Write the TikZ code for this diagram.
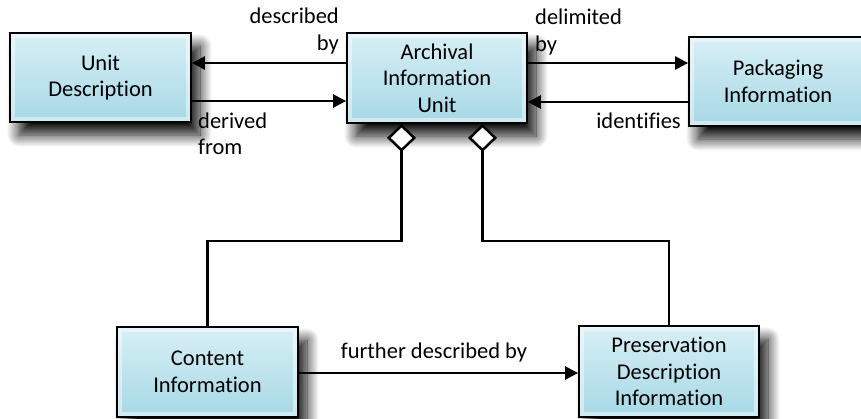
\documentclass[tikz,border=0pt]{standalone}
\usepackage{fontspec}
\setmainfont[Ligatures={NoCommon,NoContextual,NoRare},RawFeature={-liga;-clig;-calt;-dlig}]{Carlito}
\usetikzlibrary{arrows.meta,shadows.blur}
\definecolor{boxtop}{RGB}{216,239,245}
\definecolor{boxbot}{RGB}{166,216,229}
\tikzset{
  box/.style={draw=black, line width=1.8pt, top color=boxtop, bottom color=boxbot,
    align=center, inner sep=0pt, font=\fontsize{22.5}{26.5}\selectfont,
    blur shadow={shadow xshift=9pt, shadow yshift=-13pt, shadow blur radius=12pt,
      shadow blur steps=14, shadow opacity=95},
    path picture={\draw[white, opacity=0.45, line width=4pt]
      ([shift={(3pt,-3pt)}]path picture bounding box.north west) rectangle
      ([shift={(-3pt,3pt)}]path picture bounding box.south east);}},
  arr/.style={line width=2.5pt, -{Triangle[length=13pt,width=13pt]}},
  agg/.style={line width=2.5pt, {Diamond[fill=white,length=28pt,width=29pt]}-},
  lbl/.style={inner sep=0pt, font=\fontsize{22.5}{26.5}\selectfont}
}
\begin{document}
\begin{tikzpicture}[x=1pt,y=-1pt]
\useasboundingbox (0,0) rectangle (861,418);
\clip (0,0) rectangle (861,418);
\node[box, minimum width=181pt, minimum height=89pt] (ud) at (100.5,77.5) {Unit\\Description};
\node[box, minimum width=180pt, minimum height=90pt] (aiu) at (437,78) {Archival\\Information\\Unit};
\node[box, minimum width=178pt, minimum height=89pt] (pi) at (778,81.5) {Packaging\\Information};
\node[box, minimum width=181pt, minimum height=90pt] (ci) at (207.5,372) {Content\\Information};
\node[box, minimum width=180pt, minimum height=91pt] (pdi) at (669,371.5) {Preservation\\Description\\Information};

\draw[arr] ([yshift=15pt]aiu.west) -- ([yshift=15pt]aiu.west -| ud.east);
\draw[arr] ([yshift=-23.5pt]ud.east) -- ([yshift=-23.5pt]ud.east -| aiu.west);
\draw[arr] ([yshift=15pt]aiu.east) -- ([yshift=15pt]aiu.east -| pi.west);
\draw[arr] ([yshift=-20.5pt]pi.west) -- ([yshift=-20.5pt]pi.west -| aiu.east);
\draw[arr] ([yshift=-1pt]ci.east) -- ([yshift=-1pt]ci.east -| pdi.west);

\draw[agg] ([xshift=-35.5pt]aiu.south) -- ++(0,117) -| (ci.north);
\draw[agg] ([xshift=45.5pt]aiu.south) -- ++(0,117) -| (pdi.north);

\node[lbl, anchor=east, align=right] (l1) at (339,31) {described\\by};
\node[lbl, anchor=west, align=left] (l2) at (198,134) {derived\\from};
\node[lbl, anchor=west, align=left] (l3) at (535,32) {delimited\\by};
\node[lbl, anchor=east] (l4) at (681,121) {identifies};
\node[lbl] (l5) at (434,352) {further described by};
\end{tikzpicture}
\end{document}
